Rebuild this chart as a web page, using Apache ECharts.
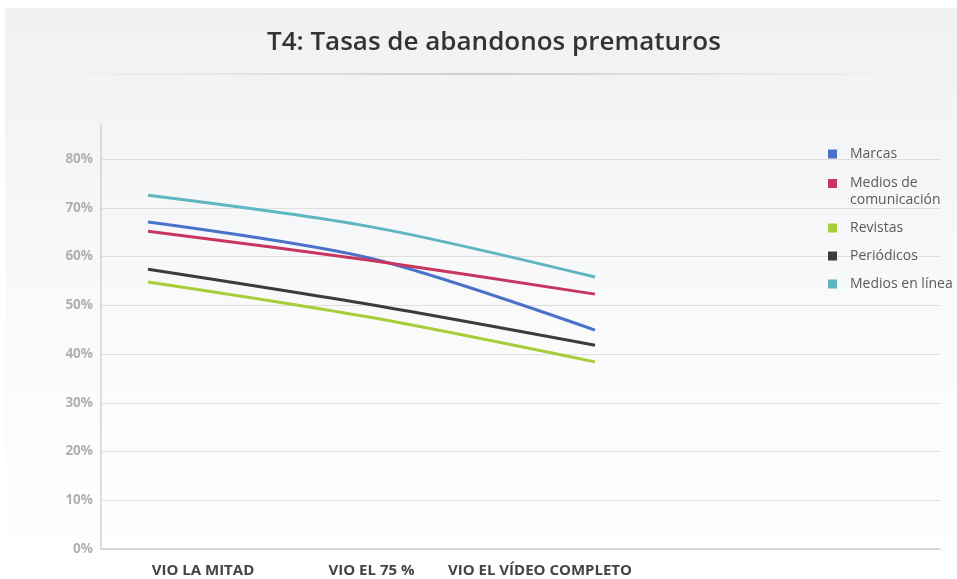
<!DOCTYPE html>
<html>
<head>
<meta charset="utf-8">
<script src="https://cdn.jsdelivr.net/npm/echarts@6/dist/echarts.min.js"></script>
<style>
  html, body { margin: 0; padding: 0; background: #fff; }
  #main { width: 957px; height: 579px; }
</style>
</head>
<body>
<div id="main"></div>
<script>
var categories = ['VIO LA MITAD', 'VIO EL 75 %', 'VIO EL VÍDEO COMPLETO'];
var marcas = [67.1, 59.6, 44.9];
var mediosCom = [65.2, 59.2, 52.3];
var revistas = [54.8, 47.5, 38.4];
var periodicos = [57.4, 50.1, 41.8];
var mediosLinea = [72.6, 66.1, 55.8];
var yTicks = [0, 10, 20, 30, 40, 50, 60, 70, 80];

var myChart = echarts.init(document.getElementById('main'));

function lineSeries(name, data, color) {
    return {
        name: name,
        type: 'line',
        xAxisIndex: 1,
        yAxisIndex: 1,
        data: data,
        smooth: 0.3,
        symbol: 'none',
        lineStyle: { width: 3, color: color },
        itemStyle: { color: color }
    };
}

var legendText = {
    color: '#5a5a5e',
    fontSize: 14,
    fontFamily: 'Open Sans',
    lineHeight: 17,
    padding: [0, 0, 0, 8],
    rich: {
        m: { fontSize: 14, lineHeight: 17, color: '#5a5a5e', fontFamily: 'Open Sans', padding: [17, 0, 0, 0] }
    }
};

var option = {
    animation: false,
    graphic: [
        {
            type: 'rect', z: -10, silent: true,
            shape: { x: 5, y: 8, width: 960, height: 580 },
            style: {
                fill: new echarts.graphic.LinearGradient(0, 0, 0, 1, [
                    { offset: 0, color: '#eff1f3' },
                    { offset: 0.6, color: '#fbfbfc' },
                    { offset: 1, color: '#ffffff' }
                ])
            }
        },
        {
            type: 'line', silent: true,
            shape: { x1: 40, y1: 74, x2: 920, y2: 74 },
            style: {
                lineWidth: 1.5,
                stroke: new echarts.graphic.LinearGradient(0, 0, 1, 0, [
                    { offset: 0, color: 'rgba(200,202,205,0)' },
                    { offset: 0.5, color: 'rgba(190,192,196,1)' },
                    { offset: 1, color: 'rgba(200,202,205,0)' }
                ])
            }
        }
    ],
    title: {
        text: 'T4: Tasas de abandonos prematuros',
        left: 262,
        top: 25,
        textStyle: {
            fontFamily: 'Open Sans',
            fontSize: 26,
            fontWeight: 600,
            color: '#333336'
        }
    },
    legend: [
        {
            orient: 'vertical',
            left: 828,
            top: 145.5,
            padding: 0,
            icon: 'rect',
            itemWidth: 9,
            itemHeight: 9,
            itemGap: -3,
            data: ['Marcas', 'Medios de comunicación'],
            formatter: function (name) {
                if (name === 'Medios de comunicación') {
                    return '{m|Medios de\ncomunicación}';
                }
                return name;
            },
            textStyle: legendText
        },
        {
            orient: 'vertical',
            left: 828,
            top: 219.5,
            padding: 0,
            icon: 'rect',
            itemWidth: 9,
            itemHeight: 9,
            itemGap: 11,
            data: ['Revistas', 'Periódicos', 'Medios en línea'],
            textStyle: legendText
        }
    ],
    grid: [
        { left: 101, right: 17, top: 125, bottom: 30 },
        { left: 148, right: 362, top: 125, bottom: 30 }
    ],
    xAxis: [
        {
            gridIndex: 0,
            type: 'category',
            data: [''],
            axisLine: { show: true, lineStyle: { color: '#cfcfd2', width: 1.5 } },
            axisTick: { show: false },
            axisLabel: { show: false }
        },
        {
            gridIndex: 1,
            type: 'category',
            boundaryGap: false,
            data: categories,
            axisLine: { show: false },
            axisTick: { show: false },
            axisLabel: {
                margin: 14,
                interval: 0,
                formatter: function (v, i) {
                    if (i === 0) return '{a|' + v + '}';
                    if (i === 2) return '{c|' + v + '}';
                    return '{b|' + v + '}';
                },
                rich: {
                    a: { fontFamily: 'Open Sans', fontWeight: 'bold', fontSize: 15, color: '#444447', padding: [0, 0, 0, 110] },
                    b: { fontFamily: 'Open Sans', fontWeight: 'bold', fontSize: 15, color: '#444447' },
                    c: { fontFamily: 'Open Sans', fontWeight: 'bold', fontSize: 15, color: '#444447', padding: [0, 110, 0, 0] }
                }
            }
        }
    ],
    yAxis: [
        {
            gridIndex: 0,
            type: 'value',
            min: 0,
            max: 87,
            interval: 10,
            axisLine: { show: true, lineStyle: { color: '#d2d2d5', width: 1.5 } },
            axisTick: { show: false },
            axisLabel: {
                showMaxLabel: false,
                margin: 8,
                color: '#b0b0b3',
                fontFamily: 'Open Sans',
                fontWeight: 'bold',
                fontSize: 13.5,
                formatter: function (v) {
                    return yTicks.indexOf(v) >= 0 ? v + '%' : '';
                }
            },
            splitLine: {
                show: true,
                showMaxLine: false,
                lineStyle: { color: '#dedee0', width: 1 }
            }
        },
        {
            gridIndex: 1,
            type: 'value',
            min: 0,
            max: 87,
            show: false
        }
    ],
    series: [
        lineSeries('Marcas', marcas, '#4a72c9'),
        lineSeries('Medios de comunicación', mediosCom, '#c8355f'),
        lineSeries('Revistas', revistas, '#a9cc3a'),
        lineSeries('Periódicos', periodicos, '#3b3b40'),
        lineSeries('Medios en línea', mediosLinea, '#5db6c0')
    ]
};

myChart.setOption(option);
</script>
</body>
</html>
